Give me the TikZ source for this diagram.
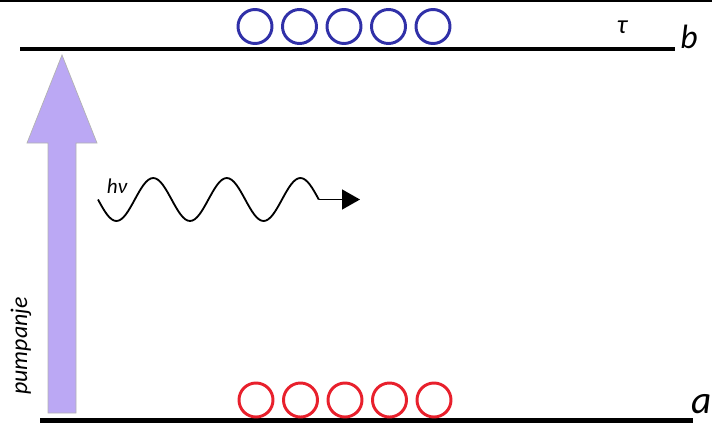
\documentclass[tikz,border=0pt]{standalone}
\usepackage{fontspec}
\setmainfont{Carlito}
\usepackage{xcolor}
\definecolor{levelblue}{RGB}{48,48,168}
\definecolor{levelred}{RGB}{232,32,44}
\definecolor{pumplilac}{RGB}{187,168,244}
\usepackage{tikz}
\usetikzlibrary{arrows.meta,positioning}

\begin{document}
\begin{tikzpicture}[
    x=0.025cm, y=-0.025cm,
    font=\itshape,
    level/.style={line width=2.9pt, black},
    atomb/.style={circle, draw=levelblue, line width=2.1pt, minimum size=0.85cm, inner sep=0pt},
    atoma/.style={circle, draw=levelred, line width=2.1pt, minimum size=0.85cm, inner sep=0pt},
    photon/.style={line width=1.3pt, black},
    photonarrow/.style={-{Triangle[length=12.8pt, width=14.2pt]}, line width=1.1pt},
    lbl/.style={inner sep=0pt},
]
\useasboundingbox (0,0) rectangle (712,423);
\draw[line width=1.4pt] (0,1) -- (712,1);

% energy levels
\coordinate (b0) at (20,49);
\coordinate (b1) at (675,49);
\coordinate (a0) at (40,420.5);
\coordinate (a1) at (693,420.5);
\draw[level] (b0) -- (b1);
\draw[level] (a0) -- (a1);
\node[lbl, anchor=base west, font=\fontsize{24}{28}\selectfont\itshape] (lb) at (680,48) {b};
\node[lbl, anchor=base west, font=\fontsize{28}{32}\selectfont\itshape] (la) at (691,413) {a};
\node[lbl, font=\fontsize{19}{22}\selectfont\itshape] (tau) at (622,27) {τ};

% populations
\foreach \i in {0,...,4} {
  \node[atomb] (nb\i) at (255+44.5*\i,26.5) {};
  \node[atoma] (na\i) at (256+44.5*\i,400) {};
}

% pumping arrow
\draw[fill=pumplilac, draw=gray!60, line width=0.5pt]
  (48,413) -- (48,143) -- (27,143) -- (62,55) -- (97,143) -- (76,143) -- (76,413) -- cycle;
\node[lbl, rotate=90, font=\fontsize{17}{20}\selectfont\itshape] (pump) at (21,346) {pumpanje};

% emitted photon
\node[lbl, font=\fontsize{15}{18}\selectfont\itshape] (hnu) at (117,186) {hν};
\coordinate (w0) at (98,199.5);
\draw[photon] (w0) \foreach \k in {1,2,3} {
    sin ++(18.4,21.5) cos ++(18.4,-21.5) sin ++(18.4,-21.5) cos ++(18.4,21.5)
  } coordinate (w1);
\coordinate (w2) at (360,199.5);
\draw[photonarrow] (w1) -- (w2);

\end{tikzpicture}
\end{document}
